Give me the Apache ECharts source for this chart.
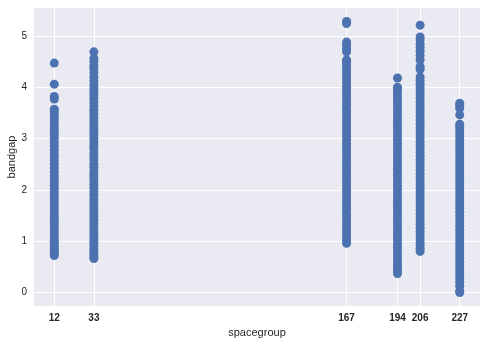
<!DOCTYPE html>
<html><head><meta charset="utf-8">
<script src="https://cdn.jsdelivr.net/npm/echarts@6/dist/echarts.min.js"></script>
<style>html,body{margin:0;padding:0;background:#fff}#c{width:487px;height:344px}</style>
</head><body><div id="c"></div>
<script>
var xTicks = [12, 33, 167, 194, 206, 227];
var yTicks = [0, 1, 2, 3, 4, 5];
var g12 = [0.72,0.76,0.8,0.85,0.9,0.95,1.0,1.06,1.12,1.18,1.24,1.3,1.36,1.42,1.48,1.55,1.62,1.68,1.75,1.82,1.88,1.95,2.02,2.08,2.15,2.22,2.28,2.35,2.42,2.5,2.57,2.64,2.7,2.78,2.85,2.92,3.0,3.07,3.14,3.2,3.27,3.34,3.4,3.47,3.52,3.57,3.77,3.82,4.06,4.47];
var g33 = [0.66,0.7,0.75,0.8,0.86,0.92,0.98,1.04,1.1,1.16,1.22,1.28,1.35,1.42,1.48,1.55,1.62,1.68,1.75,1.82,1.9,1.96,2.03,2.1,2.17,2.24,2.3,2.37,2.44,2.5,2.58,2.65,2.72,2.8,2.86,2.93,3.0,3.07,3.14,3.2,3.27,3.34,3.4,3.48,3.55,3.62,3.7,3.78,3.85,3.92,3.98,4.05,4.12,4.2,4.28,4.36,4.42,4.5,4.56,4.69];
var g167 = [0.96,1.02,1.08,1.15,1.22,1.29,1.36,1.43,1.5,1.57,1.64,1.71,1.78,1.85,1.92,1.99,2.06,2.13,2.2,2.27,2.34,2.41,2.48,2.55,2.62,2.69,2.76,2.83,2.9,2.97,3.04,3.11,3.18,3.25,3.32,3.39,3.46,3.53,3.6,3.67,3.74,3.81,3.88,3.95,4.02,4.09,4.16,4.23,4.3,4.37,4.44,4.5,4.53,4.69,4.75,4.82,4.88,5.24,5.28];
var g194 = [0.37,0.42,0.48,0.54,0.6,0.67,0.74,0.81,0.88,0.95,1.02,1.09,1.16,1.23,1.3,1.37,1.44,1.51,1.58,1.65,1.72,1.79,1.86,1.93,2.0,2.07,2.14,2.21,2.28,2.35,2.42,2.49,2.56,2.63,2.7,2.77,2.84,2.91,2.98,3.05,3.12,3.19,3.26,3.33,3.4,3.47,3.54,3.61,3.68,3.75,3.82,3.89,3.95,4.0,4.18];
var g206 = [0.8,0.86,0.92,0.98,1.05,1.12,1.19,1.26,1.33,1.4,1.47,1.54,1.61,1.68,1.75,1.82,1.89,1.96,2.03,2.1,2.17,2.24,2.31,2.38,2.45,2.52,2.59,2.66,2.73,2.8,2.87,2.94,3.01,3.08,3.15,3.22,3.29,3.36,3.43,3.5,3.57,3.64,3.71,3.78,3.85,3.92,3.99,4.06,4.13,4.2,4.35,4.4,4.53,4.62,4.7,4.78,4.84,4.92,4.98,5.21];
var g227 = [0.0,0.03,0.12,0.2,0.26,0.32,0.38,0.45,0.52,0.59,0.66,0.73,0.8,0.87,0.94,1.01,1.08,1.15,1.22,1.29,1.36,1.43,1.5,1.57,1.64,1.71,1.78,1.85,1.92,1.99,2.06,2.13,2.2,2.27,2.34,2.41,2.48,2.55,2.62,2.69,2.76,2.83,2.9,2.97,3.04,3.11,3.18,3.24,3.28,3.46,3.59,3.65,3.69];

var groups = [[12,g12],[33,g33],[167,g167],[194,g194],[206,g206],[227,g227]];
var pts = [];
groups.forEach(function(g){ g[1].forEach(function(v){ pts.push([g[0], v]); }); });

var gridLines = [];
xTicks.forEach(function(v){ gridLines.push({xAxis: v}); });
yTicks.forEach(function(v){ gridLines.push({yAxis: v}); });

var chart = echarts.init(document.getElementById('c'));
chart.setOption({
  animation: false,
  backgroundColor: '#ffffff',
  grid: {left: 34, right: 7, top: 8, bottom: 38, show: true, backgroundColor: '#EAEAF2', borderWidth: 0,
         containLabel: false, outerBoundsMode: 'none'},
  xAxis: {
    type: 'value', min: 1.25, max: 237.75,
    name: 'spacegroup', nameLocation: 'middle', nameGap: 19,
    nameTextStyle: {fontFamily: 'Liberation Sans', fontSize: 11, color: '#262626'},
    axisLine: {show: false}, axisTick: {show: false}, splitLine: {show: false},
    axisLabel: {customValues: xTicks, margin: 7, fontFamily: 'Liberation Sans', fontSize: 10, fontWeight: 'bold', color: '#262626'}
  },
  yAxis: {
    type: 'value', min: -0.264, max: 5.544,
    name: 'bandgap', nameLocation: 'middle', nameGap: 17, nameMoveOverlap: false,
    nameTextStyle: {fontFamily: 'Liberation Sans', fontSize: 11, color: '#262626'},
    axisLine: {show: false}, axisTick: {show: false}, splitLine: {show: false},
    axisLabel: {customValues: yTicks, margin: 7, fontFamily: 'Liberation Sans', fontSize: 10, color: '#262626'}
  },
  series: [
    {type: 'line', data: [], zlevel: 0, z: 1, silent: true,
     markLine: {silent: true, symbol: ['none','none'], label: {show: false},
       lineStyle: {color: '#ffffff', width: 1, type: 'solid'}, data: gridLines}},
    {type: 'scatter', data: pts, zlevel: 1, z: 3, symbolSize: 9,
     itemStyle: {color: '#4C72B0', opacity: 1}}
  ]
});
</script></body></html>
